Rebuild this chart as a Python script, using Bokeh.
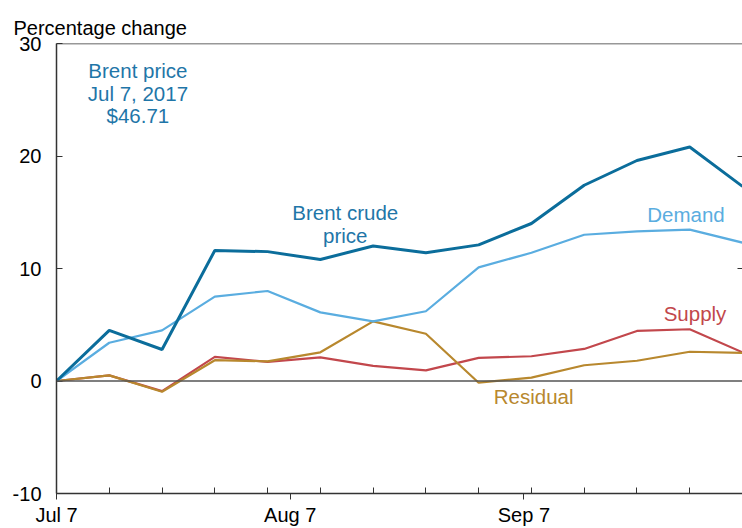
import pandas as pd
from bokeh.plotting import figure
from bokeh.models import Range1d, FixedTicker, LinearAxis, Span, Label
from bokeh.embed import file_html
from bokeh.resources import INLINE

# ---- data ----
dates = ["2017-07-07", "2017-07-14", "2017-07-21", "2017-07-28", "2017-08-04",
         "2017-08-11", "2017-08-18", "2017-08-25", "2017-09-01", "2017-09-08",
         "2017-09-15", "2017-09-22", "2017-09-29", "2017-10-06"]
brent = [0, 4.5, 2.8, 11.6, 11.5, 10.8, 12.0, 11.4, 12.1, 14.0, 17.4, 19.6, 20.8, 17.3]
demand = [0, 3.4, 4.5, 7.5, 8.0, 6.1, 5.3, 6.2, 10.1, 11.4, 13.0, 13.3, 13.45, 12.3]
supply = [0, 0.5, -0.9, 2.15, 1.7, 2.1, 1.35, 0.95, 2.05, 2.2, 2.85, 4.45, 4.6, 2.55]
residual = [0, 0.5, -0.95, 1.85, 1.75, 2.55, 5.3, 4.2, -0.15, 0.3, 1.4, 1.8, 2.6, 2.5]
month_ticks = ["2017-07-07", "2017-08-07", "2017-09-07"]
month_labels = ["Jul 7", "Aug 7", "Sep 7"]
y_ticks = [-10, 0, 10, 20, 30]
y_labels = ["-10", "0", "10", "20", "30"]

t0 = pd.Timestamp(dates[0])
x = [(pd.Timestamp(d) - t0).days for d in dates]
mx = [(pd.Timestamp(d) - t0).days for d in month_ticks]

FONT = "Liberation Sans"
C_BRENT = "#0b6d9b"
C_BRENT_TXT = "#1f76a8"
C_DEMAND = "#5aade0"
C_SUPPLY = "#c2474c"
C_RESID = "#b8882e"
AX = "#333333"

p = figure(width=742, height=528, output_backend="svg", toolbar_location=None,
           x_range=Range1d(x[0], x[-1]), y_range=Range1d(-10, 30),
           min_border_left=56, min_border_top=43, min_border_bottom=35,
           min_border_right=0, title="Percentage change")
p.outline_line_color = None
p.grid.visible = False
p.background_fill_color = "white"
p.border_fill_color = "white"

p.title.align = "left"
p.title.offset = -43
p.title.standoff = 10
p.title.text_font = FONT
p.title.text_font_size = "20px"
p.title.text_font_style = "normal"
p.title.text_color = "black"

# bottom axis
xa = p.xaxis[0]
xa.ticker = FixedTicker(ticks=mx, minor_ticks=x)
xa.major_label_overrides = {v: l for v, l in zip(mx, month_labels)}
xa.major_tick_in = 0
xa.major_tick_out = 6
xa.minor_tick_in = 6
xa.minor_tick_out = 0
xa.major_label_standoff = 4
xa.axis_line_color = AX
xa.axis_line_width = 1.5
xa.major_tick_line_color = AX
xa.minor_tick_line_color = AX
xa.major_label_text_font = FONT
xa.major_label_text_font_size = "20px"
xa.major_label_text_color = "black"

# left axis
ya = p.yaxis[0]
ya.ticker = FixedTicker(ticks=y_ticks)
ya.major_label_overrides = {v: l for v, l in zip(y_ticks, y_labels)}
ya.major_tick_in = 6
ya.major_tick_out = 0
ya.minor_tick_line_color = None
ya.major_label_standoff = 15
ya.axis_line_color = AX
ya.axis_line_width = 1.5
ya.major_tick_line_color = AX
ya.major_label_text_font = FONT
ya.major_label_text_font_size = "20px"
ya.major_label_text_color = "black"

# right axis (ticks only)
ra = LinearAxis(ticker=FixedTicker(ticks=[10, 20]), axis_line_color=None,
                major_tick_in=5, major_tick_out=0, major_tick_line_color=AX,
                minor_tick_line_color=None, major_label_text_font_size="0px",
                major_label_standoff=0, major_label_text_color=None)
p.add_layout(ra, "right")

# top border and zero line
p.add_layout(Span(location=30, dimension="width", line_color=AX, line_width=1.5))
p.add_layout(Span(location=0, dimension="width", line_color="#555555", line_width=1.5))

# series
p.line(x, supply, line_color=C_SUPPLY, line_width=2.2)
p.line(x, residual, line_color=C_RESID, line_width=2.2)
p.line(x, demand, line_color=C_DEMAND, line_width=2.2)
p.line(x, brent, line_color=C_BRENT, line_width=3)

def lab(txt, xx, yy, color, size="20.5px"):
    p.add_layout(Label(x=xx, y=yy, text=txt, text_align="center",
                       text_baseline="middle", text_font=FONT,
                       text_font_size=size, text_color=color))

lab("Brent price", 10.8, 27.6, C_BRENT_TXT)
lab("Jul 7, 2017", 10.8, 25.6, C_BRENT_TXT)
lab("$46.71", 10.8, 23.6, C_BRENT_TXT)
lab("Brent crude", 38.3, 15.0, C_BRENT_TXT)
lab("price", 38.3, 12.9, C_BRENT_TXT)
lab("Demand", 83.5, 14.8, C_DEMAND)
lab("Supply", 84.7, 6.0, C_SUPPLY)
lab("Residual", 63.3, -1.4, C_RESID)

open("out.html", "w").write(file_html(p, INLINE))
